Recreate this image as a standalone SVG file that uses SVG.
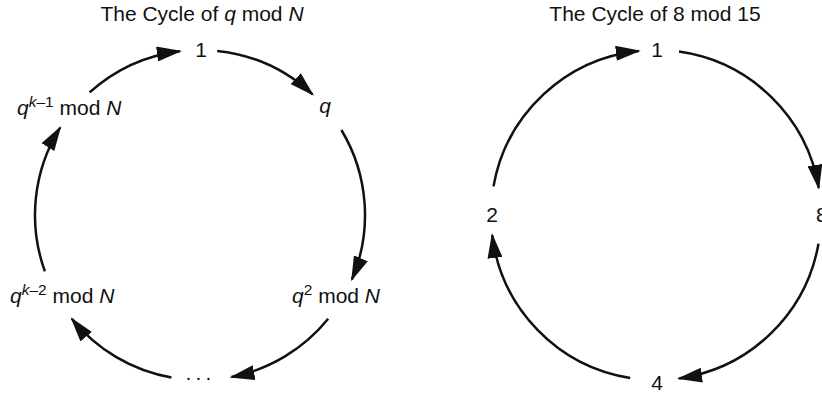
<svg xmlns="http://www.w3.org/2000/svg" width="822" height="394" viewBox="0 0 822 394">
<style>
text{font-family:"Liberation Sans",Arial,Helvetica,sans-serif;font-size:21px;fill:#111}
.t{text-anchor:middle}
.i{font-style:italic}
.sup{font-size:15.5px}
.arc{fill:none;stroke:#111;stroke-width:2.5;marker-end:url(#ah)}
</style>
<defs>
<marker id="ah" markerUnits="userSpaceOnUse" markerWidth="25" markerHeight="15" viewBox="0 0 25 15" refX="23" refY="7.5" orient="auto">
<path d="M0,0 L25,7.5 L0,15 z" fill="#111"/>
</marker>
</defs>
<rect width="822" height="394" fill="#fff"/>
<text class="t" x="202" y="21">The Cycle of <tspan class="i">q</tspan> mod <tspan class="i">N</tspan></text>
<text class="t" x="655" y="21">The Cycle of 8 mod 15</text>
<g id="connectors">
<path class="arc" d="M89.6,92.4 A165,165 0 0 1 179.9,51.2"/>
<path class="arc" d="M217.2,50.9 A165,165 0 0 1 312.5,94.3"/>
<path class="arc" d="M341.4,130 A165,165 0 0 1 351.9,279.5"/>
<path class="arc" d="M328.2,318.8 A165,165 0 0 1 231.5,377"/>
<path class="arc" d="M171.4,377.5 A165,165 0 0 1 71.8,318.8"/>
<path class="arc" d="M44.9,271.4 A165,165 0 0 1 60.1,127.6"/>
<path class="arc" d="M493.5,186.4 A165,165 0 0 1 638.8,50.9"/>
<path class="arc" d="M679,51.6 A165,165 0 0 1 818.7,187.8"/>
<path class="arc" d="M818.5,243.6 A165,165 0 0 1 679,378.4"/>
<path class="arc" d="M630.2,378 A165,165 0 0 1 492.2,235.1"/>
</g>
<g id="L1"><text class="t" x="201" y="57">1</text></g>
<g id="Lq"><text class="t i" x="325" y="113">q</text></g>
<g id="Lq2"><text x="292" y="303"><tspan class="i">q</tspan><tspan class="sup" dy="-8">2</tspan><tspan dy="8"> mod </tspan><tspan class="i">N</tspan></text></g>
<g id="Ldots"><text class="t" x="198" y="380" letter-spacing="-0.8">. . .</text></g>
<g id="Lqk2"><text x="10" y="303"><tspan class="i">q</tspan><tspan class="sup" dy="-8"><tspan class="i">k</tspan>–2</tspan><tspan dy="8"> mod </tspan><tspan class="i">N</tspan></text></g>
<g id="Lqk1"><text x="17" y="115"><tspan class="i">q</tspan><tspan class="sup" dy="-8"><tspan class="i">k</tspan>–1</tspan><tspan dy="8"> mod </tspan><tspan class="i">N</tspan></text></g>
<g id="R1"><text class="t" x="657" y="57">1</text></g>
<g id="R8"><text x="816" y="222">8</text></g>
<g id="R4"><text class="t" x="657" y="390">4</text></g>
<g id="R2"><text class="t" x="492" y="222">2</text></g>
</svg>
